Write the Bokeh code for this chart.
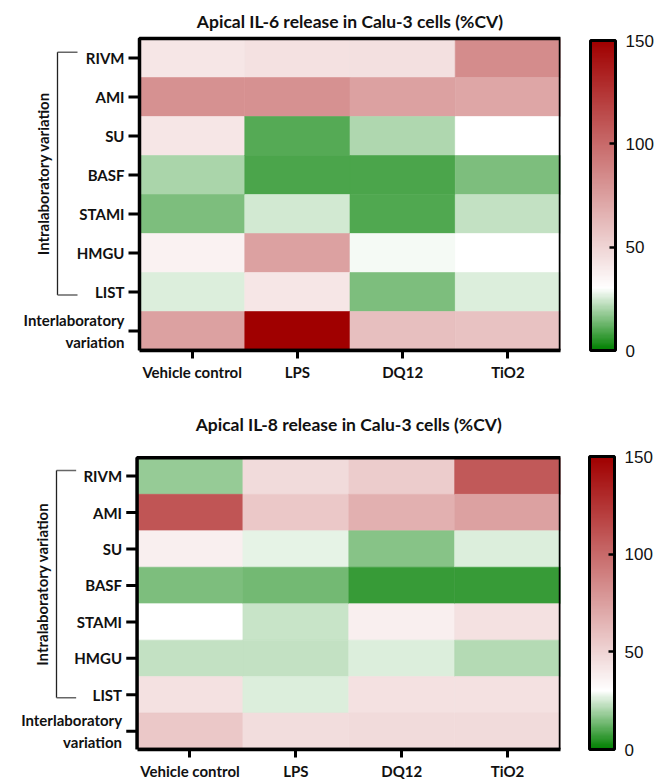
import numpy as np
from bokeh.plotting import figure
from bokeh.models import Range1d, FixedTicker, LinearColorMapper, ColorBar, ColumnDataSource
from bokeh.layouts import column
from bokeh.embed import file_html
from bokeh.resources import INLINE
from bokeh.core.properties import value

# ---------------- data ----------------
conditions = ["Vehicle control", "LPS", "DQ12", "TiO2"]
labs = ["RIVM", "AMI", "SU", "BASF", "STAMI", "HMGU", "LIST", "Interlaboratory\nvariation"]
il6_title = "Apical IL-6 release in Calu-3 cells (%CV)"
il8_title = "Apical IL-8 release in Calu-3 cells (%CV)"
y_label = "Intralaboratory variation"
cbar_ticks = [0, 50, 100, 150]

# %CV per lab (rows, top to bottom) for each condition
il6_vehicle = [42, 82, 42, 20, 15, 36, 26, 74]
il6_lps = [44, 82, 10.5, 9, 25, 74, 42, 150]
il6_dq12 = [45, 74, 21, 9, 9.5, 29, 15, 60]
il6_tio2 = [84, 72, 30, 15, 23, 30, 26, 59]

il8_vehicle = [18, 110, 38, 15, 30, 23, 44, 56]
il8_lps = [47, 56, 27, 14, 24, 23, 26, 46]
il8_dq12 = [54, 67, 16, 6.5, 38, 26, 44, 47]
il8_tio2 = [108, 74, 26, 7, 44, 21.6, 44, 47]

CV_LOW, CV_WHITE, CV_HIGH = 0, 30, 150

LABEL_FONT = "Lato"
NUM_FONT = "Liberation Sans"


def make_palette(n=256):
    green = np.array([0, 128, 0])
    white = np.array([255, 255, 255])
    red = np.array([160, 0, 0])
    out = []
    for v in np.linspace(CV_LOW, CV_HIGH, n):
        if v <= CV_WHITE:
            s = 1 - (v - CV_LOW) / (CV_WHITE - CV_LOW)
            c = white * (1 - s) + green * s
        else:
            t = (v - CV_WHITE) / (CV_HIGH - CV_WHITE)
            c = white * (1 - t) + red * t
        out.append("#%02x%02x%02x" % tuple(int(round(x)) for x in c))
    return out


PALETTE = make_palette()


def build(title, series, fig_w, fig_h, hm_left, hm_right, hm_top, hm_bottom,
          title_y, cb_loc, cb_h):
    ncol, nrow = len(conditions), len(labs)
    pxx = (hm_right - hm_left) / ncol
    pxy = (hm_bottom - hm_top) / nrow
    x0 = -0.5 - hm_left / pxx
    y1 = nrow - 0.5 + hm_top / pxy

    p = figure(width=fig_w, height=fig_h, output_backend="svg", toolbar_location=None,
               x_range=Range1d(x0, ncol - 0.5), y_range=Range1d(-0.5, y1),
               y_axis_location=None, min_border_left=0, min_border_top=0,
               min_border_right=fig_w - hm_right, min_border_bottom=fig_h - hm_bottom)
    p.outline_line_color = None
    p.xgrid.visible = False
    p.ygrid.visible = False

    mapper = LinearColorMapper(palette=PALETTE, low=CV_LOW, high=CV_HIGH)

    xs, ys, vals = [], [], []
    for ci, col in enumerate(series):
        for ri, v in enumerate(col):
            xs.append(ci)
            ys.append(nrow - 1 - ri)
            vals.append(v)
    src = ColumnDataSource(dict(x=xs, y=ys, v=vals))
    p.rect(x="x", y="y", width=1, height=1, source=src,
           fill_color={"field": "v", "transform": mapper},
           line_color={"field": "v", "transform": mapper}, line_width=0.6)
    # border
    p.rect(x=[(ncol - 1) / 2], y=[(nrow - 1) / 2], width=ncol, height=nrow,
           fill_color=None, line_color="black", line_width=3.5)

    # row ticks and labels
    row_y = [nrow - 1 - i for i in range(nrow)]
    p.segment(x0=[-0.5 - 11 / pxx] * nrow, y0=row_y, x1=[-0.5] * nrow, y1=row_y,
              line_color="black", line_width=3)
    p.text(x=[-0.5] * nrow, y=row_y, text=labs, x_offset=-15,
           text_font=value(LABEL_FONT), text_font_style="bold", text_font_size="15px",
           text_align="right", text_baseline="middle", text_color="#111111",
           text_line_height=1.2)

    # bracket for intralaboratory rows
    bx = -0.5 - 82 / pxx
    bx2 = bx + 20 / pxx
    b_top = row_y[0] + 0.15
    b_bot = row_y[nrow - 2] - 0.08
    p.line(x=[bx2, bx], y=[b_top, b_top], line_color="#666666", line_width=1.5)
    p.line(x=[bx, bx], y=[b_top, b_bot], line_color="#222222", line_width=1.3)
    p.line(x=[bx, bx2], y=[b_bot, b_bot], line_color="#666666", line_width=1.5)
    p.text(x=[bx - 15 / pxx], y=[(b_top + b_bot) / 2], text=[y_label], angle=np.pi / 2,
           text_font=value(LABEL_FONT), text_font_style="bold", text_font_size="15px",
           text_align="center", text_baseline="middle", text_color="#111111")

    # title
    p.text(x=[(ncol - 1) / 2], y=[nrow - 0.5 + (hm_top - title_y) / pxy], text=[title],
           text_font=value(LABEL_FONT), text_font_style="bold", text_font_size="17.5px",
           text_align="center", text_baseline="middle", text_color="#111111")

    # x axis
    ax = p.xaxis[0]
    ax.ticker = FixedTicker(ticks=list(range(ncol)))
    ax.major_label_overrides = {i: c for i, c in enumerate(conditions)}
    ax.bounds = (-0.5, ncol - 0.5)
    ax.axis_line_width = 3.5
    ax.axis_line_color = "black"
    ax.major_tick_line_width = 3
    ax.major_tick_out = 8
    ax.major_tick_in = 0
    ax.minor_tick_out = 0
    ax.minor_tick_in = 0
    ax.major_label_standoff = 4
    ax.major_label_text_font = LABEL_FONT
    ax.major_label_text_font_style = "bold"
    ax.major_label_text_font_size = "15px"
    ax.major_label_text_color = "#111111"

    cb = ColorBar(color_mapper=mapper, ticker=FixedTicker(ticks=cbar_ticks),
                  width=25, height=cb_h, padding=0, margin=0, location=cb_loc,
                  bar_line_color="black", bar_line_width=3,
                  major_tick_in=6, major_tick_out=0, major_tick_line_color="black",
                  major_tick_line_width=2.5, minor_tick_line_color=None,
                  label_standoff=10, major_label_text_font=NUM_FONT,
                  major_label_text_font_size="17px", major_label_text_color="#111111",
                  background_fill_color=None, border_line_color=None)
    p.add_layout(cb, "right")
    return p


p1 = build(il6_title, [il6_vehicle, il6_lps, il6_dq12, il6_tio2],
           664, 400, 139, 560, 38, 350, 21, (30, 0), 310)
p2 = build(il8_title, [il8_vehicle, il8_lps, il8_dq12, il8_tio2],
           664, 382, 139, 570, 58, 353, 24, (29, 0), 293)

layout = column(p1, p2, spacing=0)
open("out.html", "w").write(file_html(layout, INLINE))
